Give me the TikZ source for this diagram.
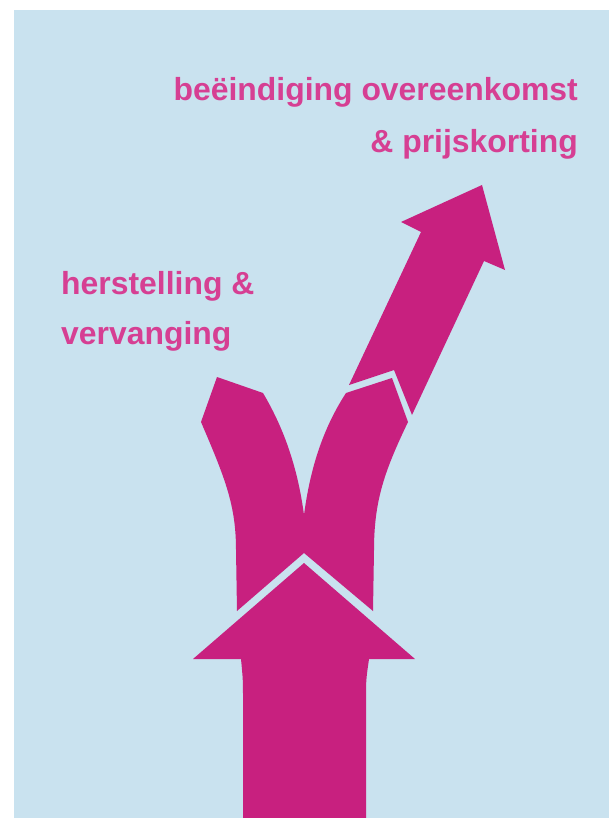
\documentclass[tikz,border=0pt]{standalone}
\usepackage{fontspec}
\setmainfont{Liberation Sans}
\definecolor{bgblue}{HTML}{C9E2EF}
\definecolor{arrowpink}{HTML}{C8207F}
\definecolor{textpink}{HTML}{D63F93}
\tikzset{
  pinkshape/.style={fill=arrowpink, draw=none},
  pinklabel/.style={text=textpink, font=\fontsize{31.9}{38}\selectfont\bfseries, inner sep=0pt},
}
\begin{document}
\begin{tikzpicture}[x=1pt,y=-1pt]
\useasboundingbox (0,0) rectangle (609,818);
\fill[bgblue] (14,10) rectangle (609,818);
% main upward arrow
\path[pinkshape] (243,818) -- (243,700) .. controls (243,680) .. (241,659) -- (193,659)
  -- (304,563) -- (415,659) -- (369,659) .. controls (366,680) .. (366,700) -- (366,818) -- cycle;
% Y fork
\path[pinkshape] (237,611) -- (236,550) .. controls (236,505) and (225,478) .. (201,422)
  -- (217,377) -- (263,393) .. controls (285,430) and (298,470) .. (304,515)
  .. controls (310,470) and (322,430) .. (346,393) -- (392,378) -- (408,422)
  .. controls (385,470) and (374,500) .. (374,550) -- (373,611) -- (304,553) -- cycle;
% diagonal arrow
\path[pinkshape] (349,385) -- (421,232) -- (401,222) -- (482,185) -- (505,270) -- (484,261)
  -- (412,415) -- (394,370) -- cycle;
% labels
\node[pinklabel, anchor=base east] (t1) at (578,101) {beëindiging overeenkomst};
\node[pinklabel, anchor=base east] (t2) at (578,153) {\& prijskorting};
\node[pinklabel, anchor=base west] (t3) at (61,294) {herstelling \&};
\node[pinklabel, anchor=base west] (t4) at (61,344) {vervanging};
\end{tikzpicture}
\end{document}
